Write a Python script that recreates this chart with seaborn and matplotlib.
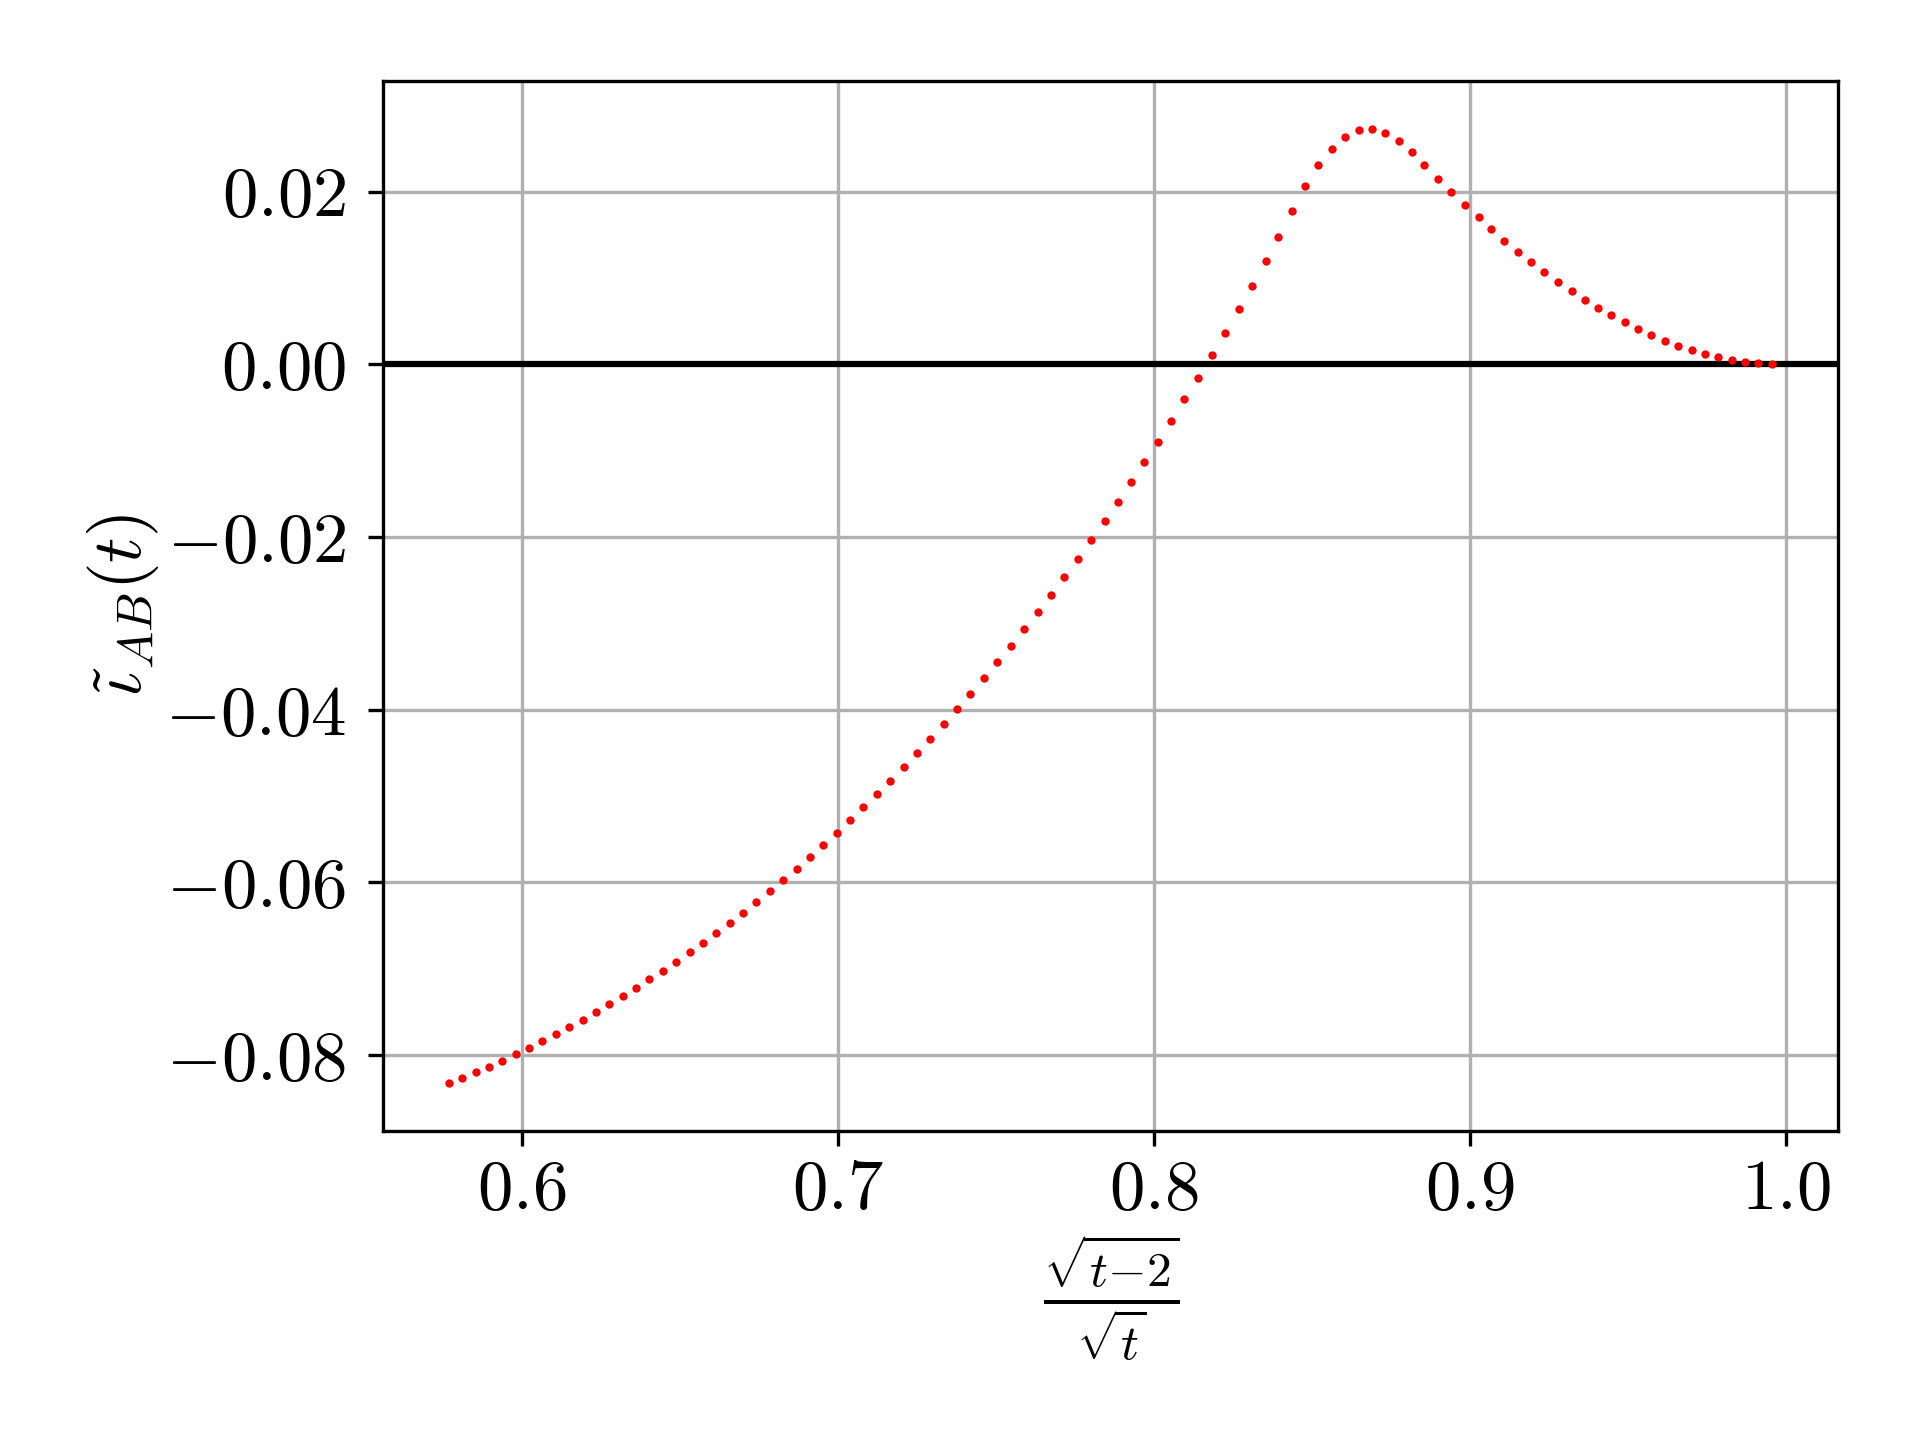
import matplotlib
matplotlib.use("Agg")
import matplotlib.pyplot as plt
import seaborn as sns
import numpy as np

# sample points (one per red dot)
x_vals = [0.5771, 0.5811, 0.5856, 0.5897, 0.5938, 0.5982, 0.6024, 0.6066, 0.6109, 0.6151,
          0.6194, 0.6235, 0.6278, 0.6321, 0.6362, 0.6404, 0.6447, 0.6489, 0.6532, 0.6574,
          0.6615, 0.6658, 0.6701, 0.6742, 0.6786, 0.6827, 0.6872, 0.6913, 0.6955, 0.6998,
          0.7039, 0.7080, 0.7125, 0.7167, 0.7210, 0.7251, 0.7292, 0.7337, 0.7378, 0.7419,
          0.7463, 0.7504, 0.7549, 0.7590, 0.7632, 0.7675, 0.7716, 0.7759, 0.7802, 0.7844,
          0.7887, 0.7929, 0.7970, 0.8014, 0.8055, 0.8096, 0.8140, 0.8183, 0.8226, 0.8268,
          0.8309, 0.8354, 0.8394, 0.8436, 0.8479, 0.8520, 0.8562, 0.8606, 0.8648, 0.8691,
          0.8732, 0.8774, 0.8818, 0.8856, 0.8898, 0.8941, 0.8983, 0.9027, 0.9068, 0.9109,
          0.9153, 0.9194, 0.9235, 0.9280, 0.9322, 0.9365, 0.9406, 0.9447, 0.9491, 0.9532,
          0.9574, 0.9617, 0.9659, 0.9703, 0.9744, 0.9785, 0.9829, 0.9870, 0.9911, 0.9955]
y_vals = [-0.08320, -0.08263, -0.08193, -0.08135, -0.08066, -0.07985, -0.07915, -0.07838, -0.07753, -0.07672,
          -0.07591, -0.07499, -0.07406, -0.07313, -0.07221, -0.07116, -0.07024, -0.06919, -0.06804, -0.06699,
          -0.06584, -0.06468, -0.06352, -0.06225, -0.06097, -0.05970, -0.05846, -0.05704, -0.05565, -0.05426,
          -0.05275, -0.05124, -0.04974, -0.04823, -0.04661, -0.04499, -0.04337, -0.04163, -0.03990, -0.03816,
          -0.03631, -0.03445, -0.03260, -0.03067, -0.02870, -0.02673, -0.02464, -0.02256, -0.02036, -0.01816,
          -0.01596, -0.01364, -0.01133, -0.00901, -0.00658, -0.00403, -0.00160, 0.00107, 0.00365, 0.00639,
          0.00906, 0.01195, 0.01477, 0.01778, 0.02067, 0.02310, 0.02496, 0.02635, 0.02716, 0.02727,
          0.02681, 0.02588, 0.02461, 0.02310, 0.02148, 0.01998, 0.01847, 0.01708, 0.01569, 0.01430,
          0.01303, 0.01187, 0.01071, 0.00955, 0.00851, 0.00747, 0.00654, 0.00573, 0.00492, 0.00411,
          0.00342, 0.00272, 0.00214, 0.00168, 0.00122, 0.00087, 0.00052, 0.00029, 0.00017, 0.00006]
y_ticks = [-0.08, -0.06, -0.04, -0.02, 0.00, 0.02]

plt.rcParams['font.family'] = 'serif'
plt.rcParams['font.serif'] = ['cmr10']
plt.rcParams['mathtext.fontset'] = 'cm'
plt.rcParams['axes.formatter.use_mathtext'] = True
plt.rcParams['font.size'] = 17

fig, ax = plt.subplots(figsize=(6.4, 4.8), dpi=300)
fig.subplots_adjust(left=0.1995, right=0.9573, bottom=0.2149, top=0.9437)

ax.axhline(0, color='black', linewidth=1.5, zorder=2)
sns.scatterplot(x=x_vals, y=y_vals, ax=ax, color='red', s=4, linewidth=0, zorder=3)
ax.grid(True)

ax.set_yticks(y_ticks)
ax.tick_params(axis='y', pad=5.4)
ax.set_xlabel(r'$\frac{\sqrt{t{-}2}}{\sqrt{t}}$', fontsize=17, labelpad=2.5)
ax.set_ylabel(r'$\tilde{\iota}_{AB}(t)$', fontsize=17, labelpad=1)

fig.savefig('out.png', dpi=300)
